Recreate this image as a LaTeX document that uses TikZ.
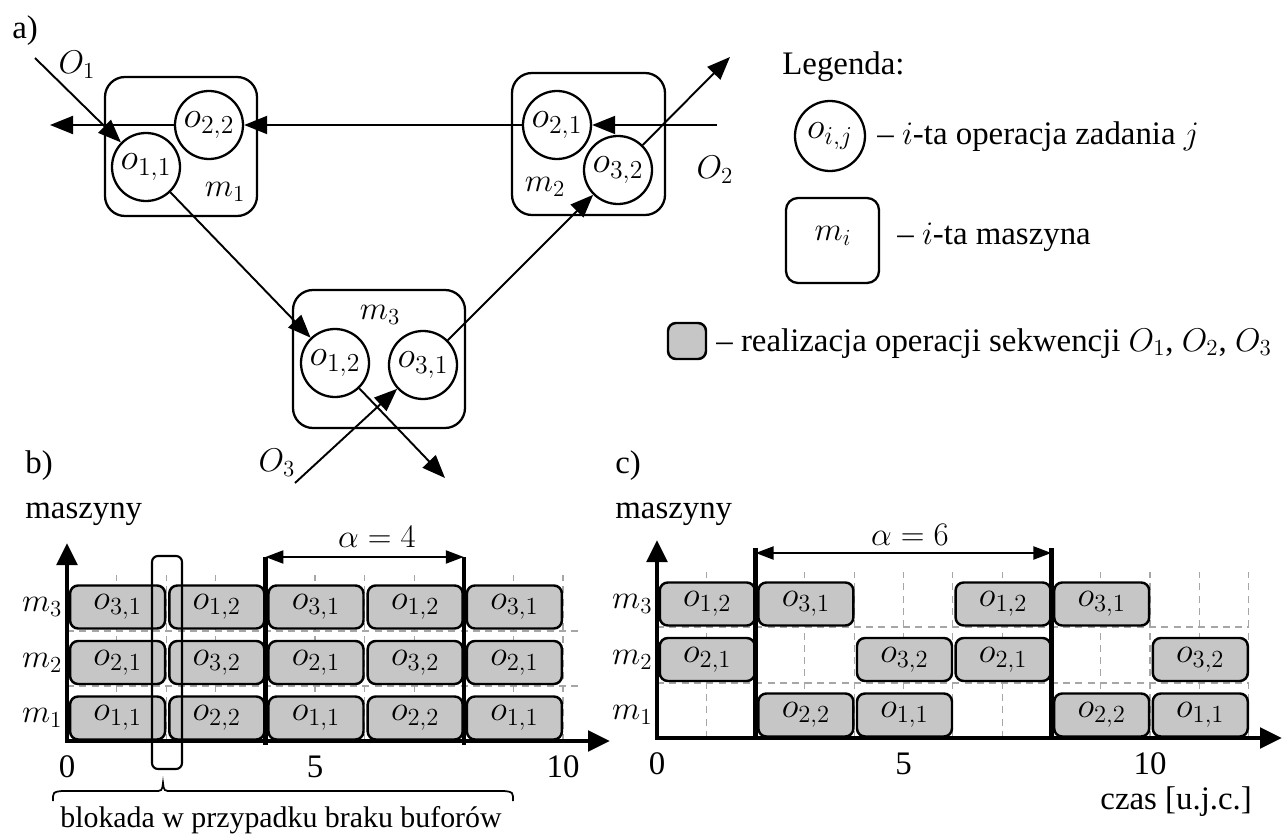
\documentclass[tikz,border=0pt]{standalone}
\usepackage{fix-cm}
\usepackage{fontspec}
\setmainfont{Liberation Serif}
\usetikzlibrary{arrows.meta,positioning}
\tikzset{op/.style={draw,circle,line width=1.3pt,minimum size=13.6mm,inner sep=0pt,font=\fontsize{21}{24}\selectfont},
mach/.style={draw,rounded corners=4mm,line width=1.3pt},
arr/.style={-{Triangle[length=4.6mm,width=3.6mm]},line width=1.1pt},
job/.style={draw,rounded corners=1.6mm,line width=1.4pt,fill=gray!45,minimum width=19mm,minimum height=8.6mm,inner sep=0pt,font=\fontsize{20}{23}\selectfont},
gridline/.style={gray!70,line width=0.6pt,dash pattern=on 4pt off 3pt},
axes/.style={line width=2.8pt,{Triangle[length=4.4mm,width=4mm]}-{Triangle[length=4.4mm,width=4mm]}},
markline/.style={line width=2.4pt},
dim/.style={{Triangle[length=3.6mm,width=2.6mm]}-{Triangle[length=3.6mm,width=2.6mm]},line width=1.2pt},
lbl/.style={inner sep=0pt}}
\begin{document}
\begin{tikzpicture}[x=0.2mm,y=-0.2mm,font=\fontsize{18.7}{22}\selectfont]
\useasboundingbox(0,0)rectangle(1284,834);
% a) maszyny i operacje
\node[lbl,anchor=base west](ta)at(12,39){a)};
\node[mach,minimum width=30.4mm,minimum height=27.8mm](m1)at(181,146.5){};
\node[mach,minimum width=30.6mm,minimum height=28.4mm](m2)at(588.5,144){};
\node[mach,minimum width=34.4mm,minimum height=27.6mm](m3)at(379,359){};
\node(lm1)at(225,192){$m_1$};
\node(lm2)at(545,187){$m_2$};
\node(lm3)at(380,315){$m_3$};
\node[op](o11)at(146,167){$o_{1,1}$};
\node[op](o22)at(209,125){$o_{2,2}$};
\node[op](o21)at(557,125){$o_{2,1}$};
\node[op](o32)at(618,170){$o_{3,2}$};
\node[op](o12)at(335,363){$o_{1,2}$};
\node[op](o31)at(423,365){$o_{3,1}$};
\coordinate(in1)at(35,58);\coordinate(out1)at(445,478);
\coordinate(in2)at(717,125);\coordinate(out2)at(50,125);
\coordinate(in3)at(295,483);\coordinate(out3)at(730,57);
\node(lO1)at(77,65){$O_1$};
\node(lO2)at(715,170){$O_2$};
\node(lO3)at(277,463){$O_3$};
\foreach\a/\b in{in1/o11,o11/o12,o12/out1,in2/o21,o21/o22,o22/out2,in3/o31,o31/o32,o32/out3}\draw[arr](\a)--(\b);
% legenda
\node[lbl,anchor=base west](leg)at(782,75){Legenda:};
\node[op,minimum size=14mm](lop)at(830,136){$o_{i,j}$};
\node[lbl,anchor=base west](lopt)at(877,145){-- $i$-ta operacja zadania $j$};
\node[mach,rounded corners=2.4mm,minimum width=18.6mm,minimum height=17mm](lmach)at(832.5,240.5){};
\node(lmi)at(833,236){$m_i$};
\node[lbl,anchor=base west](lmacht)at(897,245){-- $i$-ta maszyna};
\node[job,minimum width=7.6mm,minimum height=7.2mm](ljob)at(687,341){};
\node[lbl,anchor=base west](ljobt)at(716,351){-- realizacja operacji sekwencji $O_1$, $O_2$, $O_3$};
% b) harmonogram z blokada
\node[lbl,anchor=base west](tb)at(25,473){b)};
\node[lbl,anchor=base west](yb)at(25,518){maszyny};
\begin{scope}[shift={(67,741)},x=9.92mm,y=0.2mm]
\foreach\x in{1,...,10}\draw[gridline](\x,0)--(\x,166);
\foreach\h in{55,110}\draw[gridline](0,\h)--(10.35,\h);
\foreach\ts/\rw/\oi/\oj in{0/3/3/1,2/3/1/2,4/3/3/1,6/3/1/2,8/3/3/1,0/2/2/1,2/2/3/2,4/2/2/1,6/2/3/2,8/2/2/1,0/1/1/1,2/1/2/2,4/1/1/1,6/1/2/2,8/1/1/1}
  \node[job](b-\ts-\rw)at({\ts+1.02},{55.5*\rw-32.5}){$o_{\oi,\oj}$};
\foreach\rw in{1,2,3}\node(bm\rw)at(-0.5,{55.5*\rw-32.5}){$m_\rw$};
\draw[axes](0,198)--(0,0)--(10.95,0);
\foreach\x in{0,5,10}\node(bt\x)at(\x,-26){\x};
\coordinate(bL)at(4,184);\coordinate(bR)at(8,184);
\draw[markline](4,-4)--(bL);\draw[markline](8,-4)--(bR);
\draw[dim](bL)--(bR);
\node(ba)at(6.25,204){$\alpha=4$};
\end{scope}
\node[draw,rounded corners=1.2mm,line width=1.2pt,minimum width=6mm,minimum height=42.6mm,inner sep=0pt](blk)at(167,662.5){};
\draw[line width=1pt](53,801)..controls(53,792)..(62,791)--(154,791)..controls(162,791)..(163,783)..controls(164,791)..(172,791)--(504,791)..controls(513,792)..(513,801);
\node[lbl,anchor=base,font=\fontsize{17}{20}\selectfont](bbl)at(281,827){blokada w przypadku braku buforów};
% c) harmonogram bez blokady
\node[lbl,anchor=base west](tc)at(615,473){c)};
\node[lbl,anchor=base west](yc)at(615,518){maszyny};
\begin{scope}[shift={(657,738)},x=9.86mm,y=0.2mm]
\foreach\x in{1,...,12}\draw[gridline](\x,0)--(\x,166);
\foreach\h in{55,111}\draw[gridline](0,\h)--(12,\h);
\foreach\ts/\rw/\oi/\oj in{0/3/1/2,2/3/3/1,6/3/1/2,8/3/3/1,0/2/2/1,4/2/3/2,6/2/2/1,10/2/3/2,2/1/2/2,4/1/1/1,8/1/2/2,10/1/1/1}
  \node[job](c-\ts-\rw)at({\ts+1.02},{55.5*\rw-32.5}){$o_{\oi,\oj}$};
\foreach\rw in{1,2,3}\node(cm\rw)at(-0.5,{55.5*\rw-32.5}){$m_\rw$};
\draw[axes](0,198)--(0,0)--(12.68,0);
\foreach\x in{0,5,10}\node(ct\x)at(\x,-26){\x};
\coordinate(cL)at(2,185);\coordinate(cR)at(8,185);
\draw[markline](2,0)--(2,190);\draw[markline](8,0)--(8,190);
\draw[dim](cL)--(cR);
\node(ca)at(5.13,203){$\alpha=6$};
\node(cz)at(10.53,-64){czas [u.j.c.]};
\end{scope}
\end{tikzpicture}
\end{document}
